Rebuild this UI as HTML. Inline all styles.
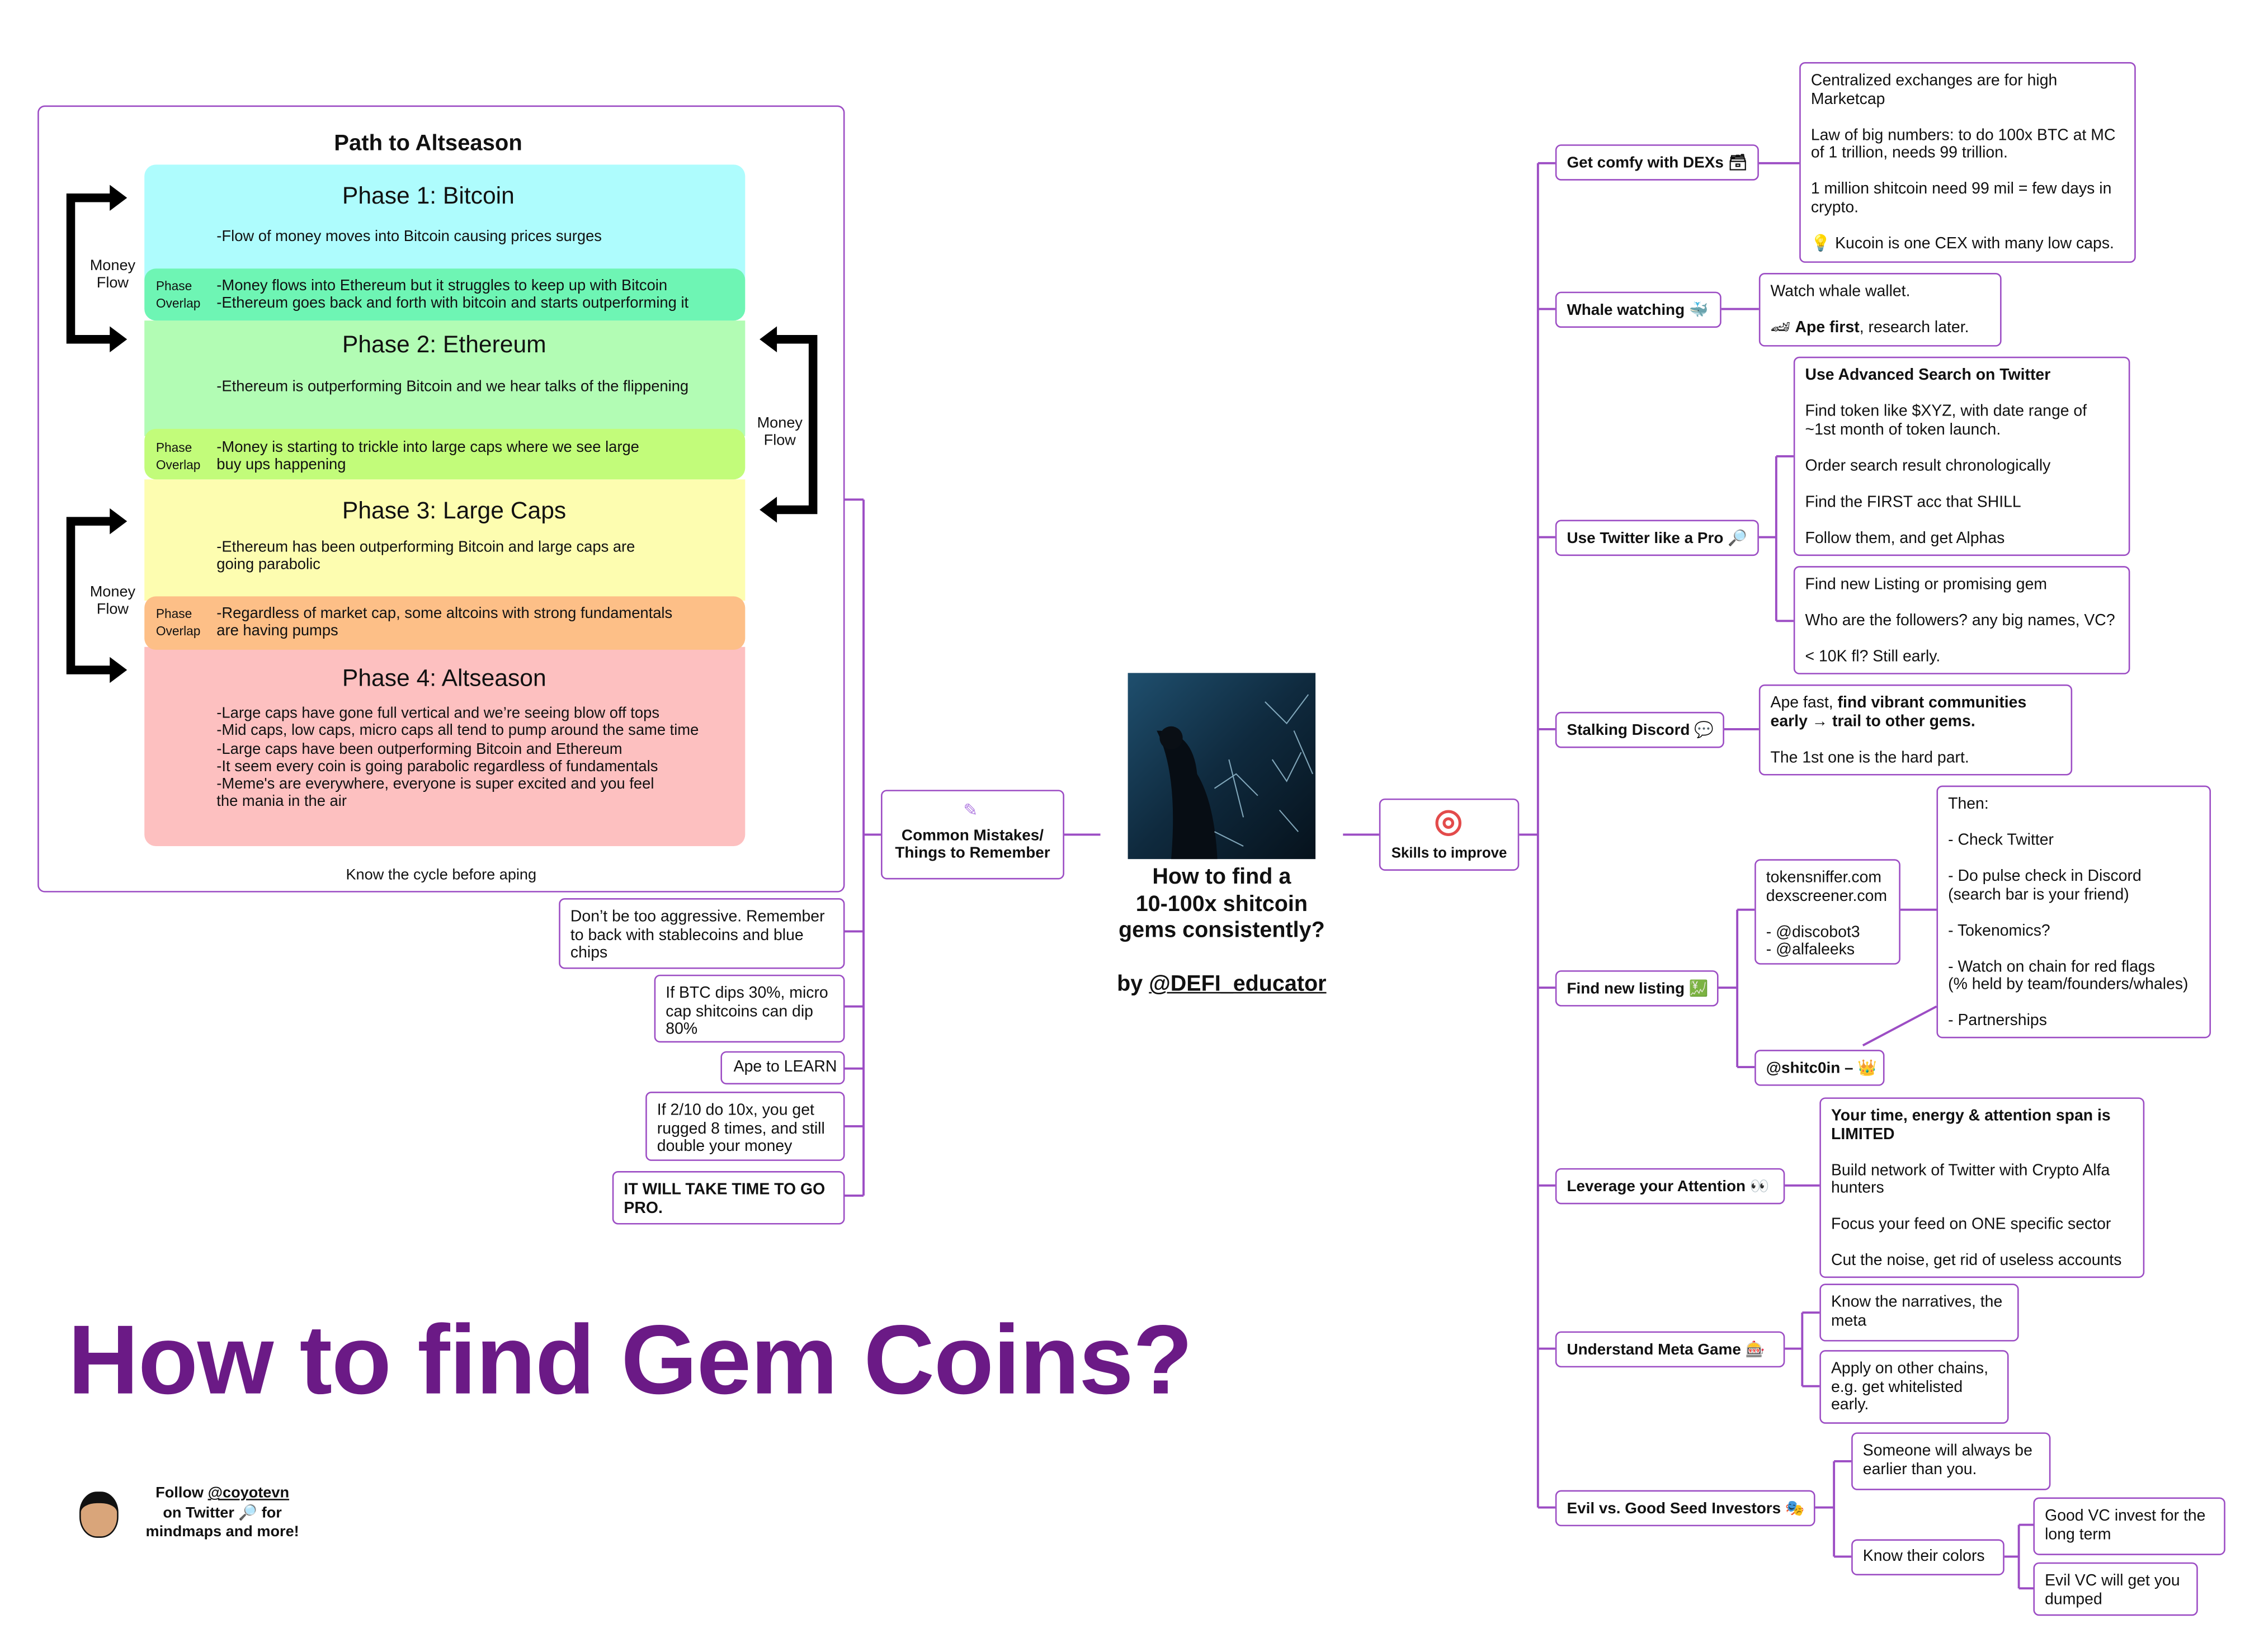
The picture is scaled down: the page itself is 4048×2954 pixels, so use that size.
<!DOCTYPE html>
<html><head><meta charset="utf-8">
<style>
html,body{margin:0;padding:0;background:#fff;}
body{width:4048px;height:2954px;overflow:hidden;position:relative;}
#s{position:absolute;left:0;top:0;width:1568px;height:1144px;transform:scale(2.582);transform-origin:0 0;font-family:"Liberation Sans","DejaVu Sans",sans-serif;color:#111;}
.b{position:absolute;box-sizing:border-box;border:1.5px solid #9c4dc4;border-radius:4px;background:#fff;font-size:11px;line-height:12.5px;padding:6px 7px;}
.n{position:absolute;box-sizing:border-box;border:1.5px solid #9c4dc4;border-radius:4px;background:#fff;font-size:10.8px;font-weight:bold;padding:0 7px;display:flex;align-items:center;white-space:nowrap;}
.a{position:absolute;white-space:nowrap;}
.ph{position:absolute;left:100px;width:416px;}
.pt{position:absolute;left:137px;font-size:16.5px;}
.tx{position:absolute;left:50px;font-size:10.6px;line-height:12.3px;}
.ol{position:absolute;left:8px;font-size:8.8px;line-height:11.5px;}
</style></head><body>
<div id="s">
<svg width="1556" height="1135" style="position:absolute;left:0;top:0" fill="none">
<g stroke="#9c4dc4" stroke-width="1.5">
<path d="M598 346V828M585 346H598M585 645H598M585 697H598M585 740H598M585 780H598M585 828H598M598 578H610M737 578H762"/>
<path d="M930 578H955M1052 578H1065M1065 113V1044M1065 113H1077M1065 214H1077M1065 372H1077M1065 505H1077M1065 684H1077M1065 821H1077M1065 934H1077M1065 1044H1077"/>
<path d="M1218 113H1246M1192 214H1218M1218 372H1230M1230 316V430M1230 316H1242M1230 430H1242M1194 505H1218"/>
<path d="M1190 684H1203M1203 630V739M1203 630H1215M1203 739H1215M1316 630H1341M1290 724L1341 697"/>
<path d="M1236 821H1260M1236 934H1248M1248 909V960M1248 909H1260M1248 960H1260"/>
<path d="M1257 1044H1270M1270 1012V1078M1270 1012H1282M1270 1078H1282M1388 1078H1398M1398 1056V1100M1398 1056H1408M1398 1100H1408"/>
</g>
</svg>

<div style="position:absolute;left:26px;top:73px;width:559px;height:545px;box-sizing:border-box;border:1.5px solid #9c4dc4;border-radius:5px;"></div>
<div class="a" style="left:0;width:593px;text-align:center;top:91px;font-size:15.5px;font-weight:bold;">Path to Altseason</div>
<div class="ph" style="top:114px;height:80px;background:#aefcfd;border-radius:8px 8px 0 0;"></div>
<div class="ph" style="top:222px;height:80px;background:#b2fcb4;"></div>
<div class="ph" style="top:332px;height:84px;background:#fdfdb0;"></div>
<div class="ph" style="top:448px;height:138px;background:#fdc0c0;border-radius:0 0 8px 8px;"></div>
<div class="ph" style="top:186px;height:36px;background:#6ef5b4;border-radius:8px;"></div>
<div class="ph" style="top:297px;height:35px;background:#c2fc7a;border-radius:8px;"></div>
<div class="ph" style="top:413px;height:37px;background:#fdbf87;border-radius:8px;"></div>
<div class="ph" style="top:114px;height:472px;">
 <div class="pt" style="top:13px;">Phase 1: Bitcoin</div>
 <div class="tx" style="top:44px;">-Flow of money moves into Bitcoin causing prices surges</div>
 <div class="ol" style="top:79px;">Phase<br>Overlap</div>
 <div class="tx" style="top:78px;">-Money flows into Ethereum but it struggles to keep up with Bitcoin<br>-Ethereum goes back and forth with bitcoin and starts outperforming it</div>
 <div class="pt" style="top:116px;">Phase 2: Ethereum</div>
 <div class="tx" style="top:148px;">-Ethereum is outperforming Bitcoin and we hear talks of the flippening</div>
 <div class="ol" style="top:191px;">Phase<br>Overlap</div>
 <div class="tx" style="top:190px;">-Money is starting to trickle into large caps where we see large<br>buy ups happening</div>
 <div class="pt" style="top:231px;">Phase 3: Large Caps</div>
 <div class="tx" style="top:259px;">-Ethereum has been outperforming Bitcoin and large caps are<br>going parabolic</div>
 <div class="ol" style="top:306px;">Phase<br>Overlap</div>
 <div class="tx" style="top:305px;">-Regardless of market cap, some altcoins with strong fundamentals<br>are having pumps</div>
 <div class="pt" style="top:347px;">Phase 4: Altseason</div>
 <div class="tx" style="top:374px;">-Large caps have gone full vertical and we’re seeing blow off tops<br>-Mid caps, low caps, micro caps all tend to pump around the same time<br>-Large caps have been outperforming Bitcoin and Ethereum<br>-It seem every coin is going parabolic regardless of fundamentals<br>-Meme's are everywhere, everyone is super excited and you feel<br>the mania in the air</div>
</div>
<svg width="600" height="620" style="position:absolute;left:0;top:0">
<g fill="#000">
<path d="M46 134H76V128L88 137L76 146V140H52V232H76V226L88 235L76 244V238H46Z"/>
<path d="M46 358H76V352L88 361L76 370V364H52V461H76V455L88 464L76 473V467H46Z"/>
<path d="M566 232H538V226L526 235L538 244V238H560V350H538V344L526 353L538 362V356H566Z"/>
</g>
<g font-size="10.5" text-anchor="middle" fill="#111">
<text x="78" y="187">Money</text><text x="78" y="199">Flow</text>
<text x="78" y="413">Money</text><text x="78" y="425">Flow</text>
<text x="540" y="296">Money</text><text x="540" y="308">Flow</text>
</g>
</svg>
<div class="a" style="left:26px;width:559px;text-align:center;top:600px;font-size:10.5px;">Know the cycle before aping</div>

<div class="n" style="left:610px;top:547px;width:127px;height:62px;justify-content:center;text-align:center;white-space:normal;line-height:12.5px;padding-top:14px;">Common Mistakes/ Things to Remember</div>
<div class="a" style="left:667px;top:554px;font-size:12px;color:#b07be0;">✎</div>
<div class="b" style="left:387px;top:622px;width:198px;height:49px;">Don’t be too aggressive. Remember to back with stablecoins and blue chips</div>
<div class="b" style="left:453px;top:675px;width:132px;height:47px;">If BTC dips 30%, micro cap shitcoins can dip 80%</div>
<div class="b" style="left:499px;top:728px;width:86px;height:23px;padding:4px 0 0 8px;white-space:nowrap;">Ape to LEARN</div>
<div class="b" style="left:447px;top:756px;width:138px;height:48px;">If 2/10 do 10x, you get rugged 8 times, and still double your money</div>
<div class="b" style="left:424px;top:811px;width:161px;height:37px;font-weight:bold;">IT WILL TAKE TIME TO GO PRO.</div>

<svg width="130" height="129" style="position:absolute;left:781px;top:466px">
<defs><linearGradient id="g" x1="0" y1="0" x2="1" y2="1"><stop offset="0" stop-color="#1f4f6e"/><stop offset=".5" stop-color="#0f2a3e"/><stop offset="1" stop-color="#06121c"/></linearGradient></defs>
<rect width="130" height="129" fill="url(#g)"/>
<path d="M20 40Q35 70 30 129H62Q60 90 48 70Q45 40 20 40Z" fill="#070d14"/>
<circle cx="30" cy="45" r="8" fill="#0a0f15"/>
<g stroke="#9fc8dc" stroke-width=".8" fill="none" opacity=".8">
<path d="M60 80L75 70L90 85M70 60L80 100M100 60L110 75L120 55M105 95L118 110M95 20L110 35L125 15M115 40L128 70M60 110L80 120"/>
</g>
</svg>
<div class="a" style="left:746px;width:200px;text-align:center;top:599px;font-size:15.3px;font-weight:bold;line-height:18.5px;">How to find a<br>10-100x shitcoin<br>gems consistently?<br><br>by <u>@DEFI_educator</u></div>
<div class="n" style="left:955px;top:553px;width:97px;height:50px;justify-content:center;padding-top:26px;font-size:10px;">Skills to improve</div>
<div class="a" style="left:994px;top:561px;width:18px;height:18px;border-radius:50%;border:2.5px solid #e34b4b;box-sizing:border-box;"></div>
<div class="a" style="left:999px;top:566px;width:8px;height:8px;border-radius:50%;border:2px solid #e34b4b;box-sizing:border-box;"></div>

<div class="n" style="left:1077px;top:100px;width:141px;height:25px;">Get comfy with DEXs 🗃</div>
<div class="n" style="left:1077px;top:202px;width:115px;height:25px;">Whale watching 🐳</div>
<div class="n" style="left:1077px;top:360px;width:141px;height:25px;">Use Twitter like a Pro 🔎</div>
<div class="n" style="left:1077px;top:493px;width:117px;height:25px;">Stalking Discord 💬</div>
<div class="n" style="left:1077px;top:672px;width:113px;height:25px;">Find new listing 💹</div>
<div class="n" style="left:1077px;top:809px;width:159px;height:25px;">Leverage your Attention 👀</div>
<div class="n" style="left:1077px;top:922px;width:159px;height:25px;">Understand Meta Game 🎰</div>
<div class="n" style="left:1077px;top:1032px;width:180px;height:25px;">Evil vs. Good Seed Investors 🎭</div>

<div class="b" style="left:1246px;top:43px;width:233px;height:139px;">Centralized exchanges are for high Marketcap<br><br>Law of big numbers: to do 100x BTC at MC of 1 trillion, needs 99 trillion.<br><br>1 million shitcoin need 99 mil = few days in crypto.<br><br>💡 Kucoin is one CEX with many low caps.</div>
<div class="b" style="left:1218px;top:189px;width:168px;height:51px;">Watch whale wallet.<br><br>🏎 <b>Ape first</b>, research later.</div>
<div class="b" style="left:1242px;top:247px;width:233px;height:138px;"><b>Use Advanced Search on Twitter</b><br><br>Find token like $XYZ, with date range of ~1st month of token launch.<br><br>Order search result chronologically<br><br>Find the FIRST acc that SHILL<br><br>Follow them, and get Alphas</div>
<div class="b" style="left:1242px;top:392px;width:233px;height:75px;">Find new Listing or promising gem<br><br>Who are the followers? any big names, VC?<br><br>&lt; 10K fl? Still early.</div>
<div class="b" style="left:1218px;top:474px;width:217px;height:63px;">Ape fast, <b>find vibrant communities early → trail to other gems.</b><br><br>The 1st one is the hard part.</div>
<div class="b" style="left:1215px;top:595px;width:101px;height:73px;">tokensniffer.com<br>dexscreener.com<br><br>- @discobot3<br>- @alfaleeks</div>
<div class="n" style="left:1215px;top:727px;width:90px;height:25px;">@shitc0in – 👑</div>
<div class="b" style="left:1341px;top:544px;width:190px;height:175px;white-space:nowrap;">Then:<br><br>- Check Twitter<br><br>- Do pulse check in Discord<br>(search bar is your friend)<br><br>- Tokenomics?<br><br>- Watch on chain for red flags<br>(% held by team/founders/whales)<br><br>- Partnerships</div>
<div class="b" style="left:1260px;top:760px;width:225px;height:125px;"><b>Your time, energy &amp; attention span is LIMITED</b><br><br>Build network of Twitter with Crypto Alfa hunters<br><br>Focus your feed on ONE specific sector<br><br>Cut the noise, get rid of useless accounts</div>
<div class="b" style="left:1260px;top:889px;width:138px;height:40px;">Know the narratives, the meta</div>
<div class="b" style="left:1260px;top:935px;width:131px;height:51px;">Apply on other chains, e.g. get whitelisted early.</div>
<div class="b" style="left:1282px;top:992px;width:138px;height:40px;">Someone will always be earlier than you.</div>
<div class="b" style="left:1282px;top:1066px;width:106px;height:25px;padding-top:5px;white-space:nowrap;">Know their colors</div>
<div class="b" style="left:1408px;top:1037px;width:133px;height:40px;">Good VC invest for the long term</div>
<div class="b" style="left:1408px;top:1082px;width:114px;height:37px;">Evil VC will get you dumped</div>

<div class="a" style="left:47px;top:898px;font-size:68px;font-weight:bold;color:#6b1a86;line-height:88px;letter-spacing:-0.5px;">How to find Gem Coins?</div>
<div class="a" style="left:55px;top:1033px;width:27px;height:32px;border-radius:45%;background:#d9a57a;border:1.5px solid #111;box-sizing:border-box;border-top:8px solid #111;"></div>
<div class="a" style="left:90px;width:128px;text-align:center;top:1028px;font-size:10.5px;font-weight:bold;line-height:13.5px;">Follow <u>@coyotevn</u><br>on Twitter 🔎 for<br>mindmaps and more!</div>
</div>
</body></html>
